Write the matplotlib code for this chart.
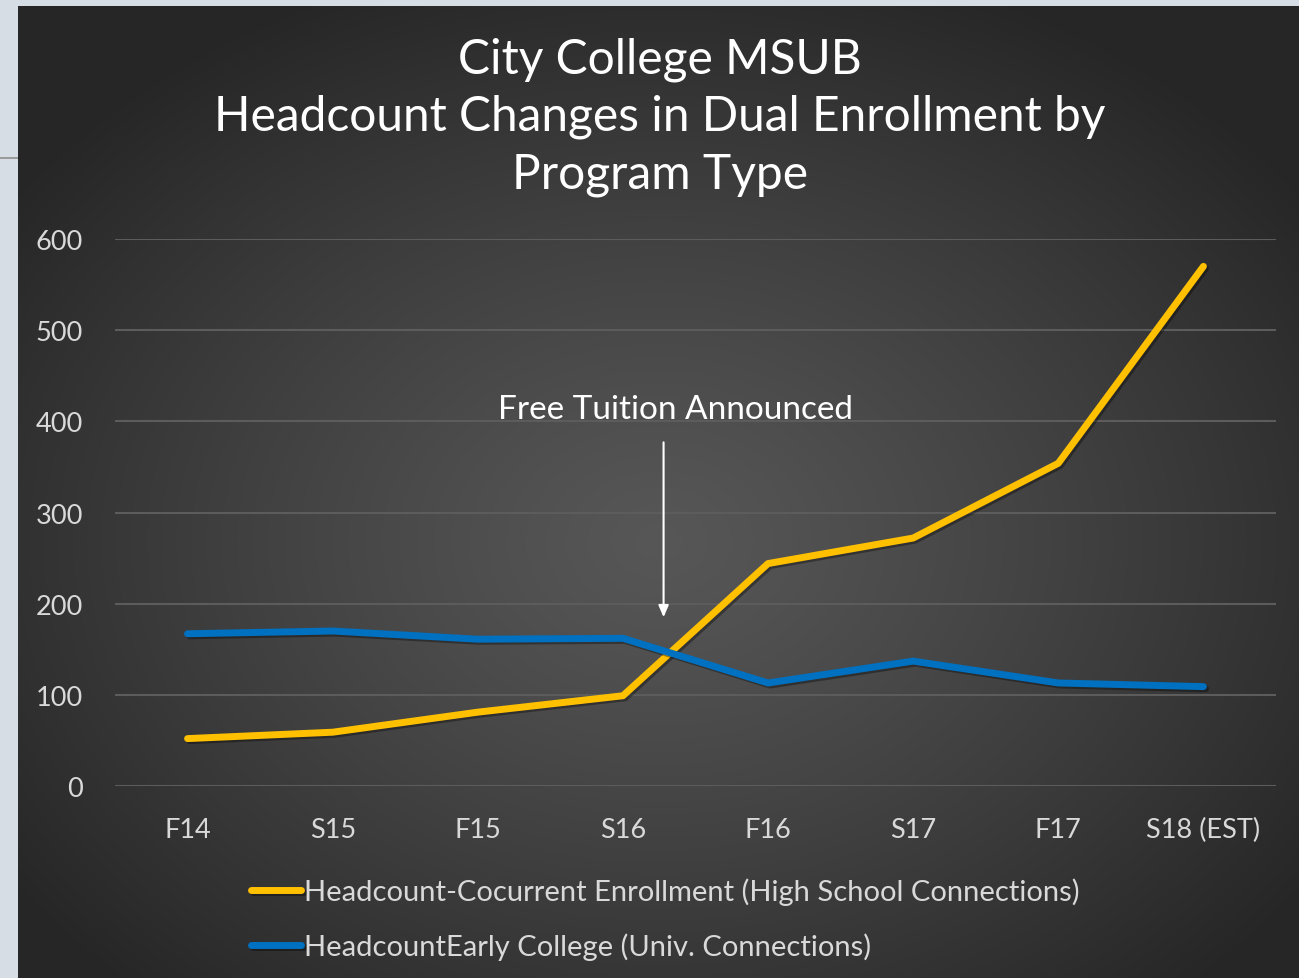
import numpy as np
import matplotlib.pyplot as plt
import matplotlib.patheffects as pe
from matplotlib.patches import Rectangle

categories = ['F14', 'S15', 'F15', 'S16', 'F16', 'S17', 'F17', 'S18 (EST)']
concurrent = [52, 59, 81, 99, 244, 272, 354, 570]
early_college = [167, 170, 161, 162, 113, 137, 113, 109]
labels = ['Headcount-Cocurrent Enrollment (High School Connections)',
          'HeadcountEarly College (Univ. Connections)']
yticks = [0, 100, 200, 300, 400, 500, 600]

W, H = 1299, 979
plt.rcParams['font.family'] = ['Lato', 'DejaVu Sans']
fig = plt.figure(figsize=(W / 100, H / 100), dpi=100)
fig.patch.set_facecolor('#d6dde5')

# dark panel with radial gradient
bg = fig.add_axes([18 / W, 0, 1 - 18 / W, 1 - 7 / H])
bg.set_axis_off()
yy, xx = np.mgrid[0:400, 0:520]
cx, cy = 0.5 * 520, 0.55 * 400
r = np.sqrt(((xx - cx) / 520) ** 2 + ((yy - cy) / 400) ** 2)
r = np.clip(r / 0.62, 0, 1)
val = 0.34 - (0.34 - 0.15) * r ** 1.2
img = np.dstack([val, val, val])
bg.imshow(img, extent=[0, 1, 0, 1], aspect='auto', interpolation='bilinear')
bg.set_xlim(0, 1)
bg.set_ylim(0, 1)

# small grey line in the left strip
fig.add_artist(Rectangle((0, 1 - 160 / H), 18 / W, 2 / H, transform=fig.transFigure,
                         color='#9a9a9a', lw=0))

ax = fig.add_axes([115 / W, 1 - 787 / H, (1276 - 115) / W, (787 - 240) / H])
ax.patch.set_alpha(0)
x = np.arange(len(categories))
shadow = [pe.SimpleLineShadow(offset=(1.5, -1.5), shadow_color='black', alpha=0.35), pe.Normal()]
ax.plot(x, concurrent, color='#ffc000', lw=5, solid_capstyle='round', solid_joinstyle='round',
        label=labels[0], path_effects=shadow, zorder=3)
ax.plot(x, early_college, color='#0070c0', lw=5, solid_capstyle='round', solid_joinstyle='round',
        label=labels[1], path_effects=shadow, zorder=3)

ax.set_xlim(-0.5, len(categories) - 0.5)
ax.set_ylim(0, 600)
ax.set_yticks(yticks)
ax.set_xticks(x)
ax.set_xticklabels(categories)
ax.grid(axis='y', color='#5c5c5c', lw=1.5)
ax.set_axisbelow(True)
for s in ax.spines.values():
    s.set_visible(False)
ax.tick_params(length=0, colors='#d9d9d9', labelsize=19.5)
ax.tick_params(axis='y', pad=23)
ax.tick_params(axis='x', pad=22)

ax.annotate('', xy=(3.28, 182), xytext=(3.28, 380),
            arrowprops=dict(arrowstyle='-|>,head_length=0.7,head_width=0.3', color='white', lw=1.5))
ax.text(3.36, 413, 'Free Tuition Announced', color='white', fontsize=24, ha='center', va='center')

fig.text(660 / W, 1 - 117 / H, 'City College MSUB\nHeadcount Changes in Dual Enrollment by\nProgram Type',
         color='white', fontsize=34.5, ha='center', va='center', linespacing=1.36)

leg = fig.legend(loc='upper left', bbox_to_anchor=(225 / W, 1 - 852 / H), frameon=False,
                 fontsize=21, handlelength=1.72, handletextpad=0.1, labelspacing=0.95)
for t in leg.get_texts():
    t.set_color('#d9d9d9')

fig.savefig('out.png', dpi=100, facecolor=fig.get_facecolor())
